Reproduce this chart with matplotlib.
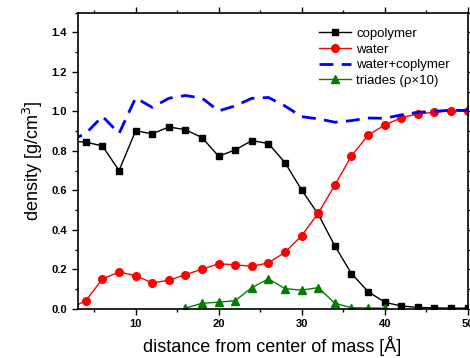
import matplotlib
matplotlib.use("Agg")
import matplotlib.pyplot as plt
from matplotlib.ticker import MultipleLocator, FormatStrFormatter

plt.rcParams['font.family'] = ['Liberation Sans', 'DejaVu Sans']

# distance from centre of mass [A]
distance = [2, 4, 6, 8, 10, 12, 14, 16, 18, 20, 22, 24, 26,
            28, 30, 32, 34, 36, 38, 40, 42, 44, 46, 48, 50]

copolymer = [0.85, 0.844, 0.825, 0.70, 0.902, 0.886, 0.921, 0.907, 0.867, 0.773,
             0.805, 0.852, 0.837, 0.74, 0.602, 0.479, 0.319, 0.179, 0.088,
             0.034, 0.015, 0.008, 0.005, 0.004, 0.004]

water = [0.0, 0.042, 0.152, 0.187, 0.169, 0.132, 0.145, 0.174, 0.201, 0.229,
         0.223, 0.216, 0.233, 0.287, 0.371, 0.484, 0.627, 0.774, 0.879,
         0.931, 0.967, 0.988, 0.995, 1.003, 1.0]

total = [0.85, 0.888, 0.975, 0.888, 1.068, 1.02, 1.066, 1.08, 1.067, 1.002,
         1.028, 1.066, 1.07, 1.027, 0.973, 0.962, 0.945, 0.953, 0.966,
         0.965, 0.982, 0.995, 1.0, 1.006, 1.004]

triad_distance = [16, 18, 20, 22, 24, 26, 28, 30, 32, 34, 36, 38, 40]
triades = [0.004, 0.029, 0.034, 0.042, 0.108, 0.152, 0.103, 0.095, 0.108,
           0.029, 0.006, 0.005, 0.004]

fig = plt.figure(figsize=(4.70, 3.58), dpi=100)
ax = fig.add_axes([0.165, 0.137, 0.83, 0.828])

ax.plot(distance, copolymer, color='black', lw=1, marker='s', ms=5,
        label='copolymer')
ax.plot(distance, water, color='red', lw=1, marker='o', ms=5.5,
        label='water')
ax.plot(distance, total, color='blue', lw=2, ls=(0, (5, 3)),
        label='water+coplymer')
ax.plot(triad_distance, triades, color='green', lw=1, marker='^', ms=6,
        label='triades (ρ×10)')

ax.set_xlim(3, 50)
ax.set_ylim(0, 1.5)
ax.xaxis.set_major_locator(MultipleLocator(10))
ax.xaxis.set_minor_locator(MultipleLocator(5))
ax.yaxis.set_major_locator(MultipleLocator(0.2))
ax.yaxis.set_minor_locator(MultipleLocator(0.1))
ax.yaxis.set_major_formatter(FormatStrFormatter('%.1f'))

ax.tick_params(which='both', direction='out', top=True, right=True,
               labelsize=8, width=1)
ax.tick_params(which='major', length=4)
ax.tick_params(which='minor', length=2.5)
for lab in ax.get_xticklabels() + ax.get_yticklabels():
    lab.set_fontweight('bold')
for sp in ax.spines.values():
    sp.set_linewidth(1.2)

ax.set_xlabel('distance from center of mass [Å]', fontsize=13, labelpad=5)
ax.set_ylabel('density [g/cm$^3$]', fontsize=13, labelpad=5)

ax.legend(loc='upper right', bbox_to_anchor=(0.975, 0.975), frameon=False,
          fontsize=9.5, handlelength=2.4, handletextpad=0.4,
          labelspacing=0.25, borderaxespad=0.2)

fig.savefig('out.png', dpi=100)
